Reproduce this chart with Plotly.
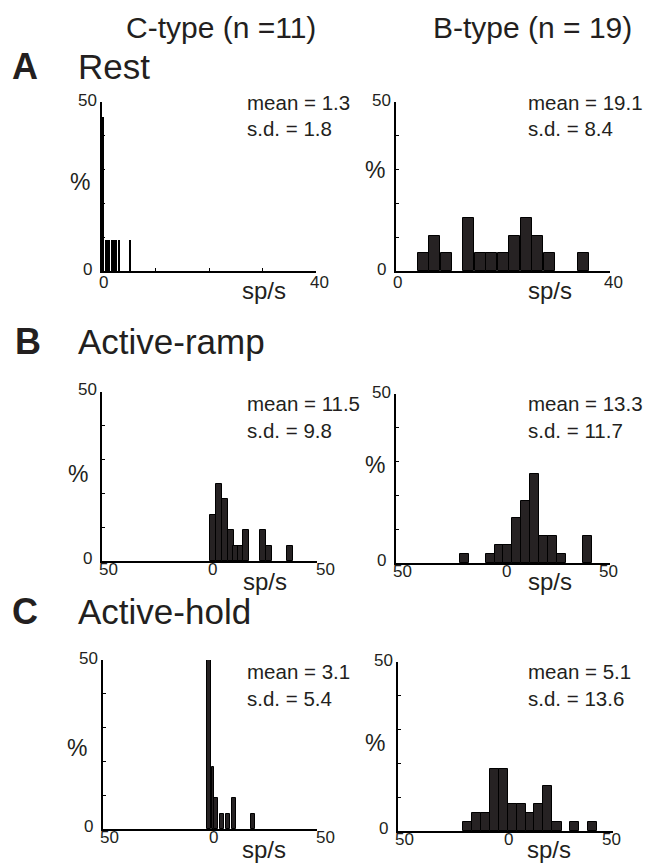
import plotly.graph_objects as go

W, H = 646, 863

# ---------------- data (percent of cells per firing-rate bin, sp/s) ----------------
rest_c_x = [0.23, 0.75, 1.2, 1.95, 2.55, 3.15, 5.25]
rest_c_pct = [45.5, 9.1, 9.1, 9.1, 9.1, 9.1, 9.1]
rest_c_w = [0.45] * 7

rest_b_x = [5.1, 7.2, 9.4, 13.6, 15.8, 17.9, 20.1, 22.2, 24.4, 26.5, 28.7, 35.1]
rest_b_pct = [5.3, 10.5, 5.3, 15.8, 5.3, 5.3, 5.3, 10.5, 15.8, 10.5, 5.3, 5.3]
rest_b_w = [2.12] * 12

ramp_c_x = [1.6, 4.4, 7.2, 9.9, 12.2, 14.5, 17.1, 24.9, 27.6, 37.3]
ramp_c_pct = [13.6, 22.7, 18.2, 9.1, 4.5, 4.5, 9.1, 9.1, 4.5, 4.5]
ramp_c_w = [2.7] * 10

ramp_b_x = [-17.9, -5.8, -1.8, 2.3, 6.4, 10.5, 14.8, 19.1, 23.2, 27.2, 39.3]
ramp_b_pct = [2.6, 2.6, 5.3, 5.3, 13.2, 18.4, 26.3, 7.9, 7.9, 2.6, 7.9]
ramp_b_w = [4.15] * 11

hold_c_x = [-0.35, 1.4, 2.8, 5.7, 8.6, 11.4, 20.2]
hold_c_pct = [50.0, 18.2, 9.1, 4.5, 4.5, 9.1, 4.5]
hold_c_w = [2.0, 1.3, 1.5, 1.9, 1.9, 1.9, 1.9]

hold_b_x = [-17.85, -13.5, -9.3, -5.3, -1.15, 3.2, 7.4, 11.4, 15.4, 19.6, 23.95, 32.25, 40.3]
hold_b_pct = [2.6, 5.3, 5.3, 18.4, 18.4, 7.9, 7.9, 5.3, 7.9, 13.2, 2.6, 2.6, 2.6]
hold_b_w = [4.2] * 13

stats = [("mean = 1.3", "s.d. = 1.8"), ("mean = 19.1", "s.d. = 8.4"),
         ("mean = 11.5", "s.d. = 9.8"), ("mean = 13.3", "s.d. = 11.7"),
         ("mean = 3.1", "s.d. = 5.4"), ("mean = 5.1", "s.d. = 13.6")]

col_titles = ["C-type (n =11)", "B-type (n = 19)"]
row_letters = ["A", "B", "C"]
row_titles = ["Rest", "Active-ramp", "Active-hold"]

# ---------------- layout geometry (pixels) ----------------
# (left, right, bottom, top) of each panel's axes
panels = [
    (102, 316, 271, 102),
    (396, 610, 271, 102),
    (102, 317, 561, 392),
    (396, 610, 563, 394),
    (103, 317, 829, 660),
    (398, 613, 831, 662),
]
xranges = [[0, 40], [0, 40], [-50, 50], [-50, 50], [-50, 50], [-50, 50]]

series = [
    (rest_c_x, rest_c_pct, rest_c_w),
    (rest_b_x, rest_b_pct, rest_b_w),
    (ramp_c_x, ramp_c_pct, ramp_c_w),
    (ramp_b_x, ramp_b_pct, ramp_b_w),
    (hold_c_x, hold_c_pct, hold_c_w),
    (hold_b_x, hold_b_pct, hold_b_w),
]

FONT = "Liberation Sans, Arial, Helvetica, sans-serif"
TXT = "#231f20"


def px(x, y):
    return x / W, 1 - y / H


fig = go.Figure()
annotations = []

for i, ((l, r, b, t), xr, (xs, ys, ws)) in enumerate(zip(panels, xranges, series)):
    k = "" if i == 0 else str(i + 1)
    dark = i == 0
    fig.add_trace(go.Bar(
        x=xs, y=ys, width=ws, xaxis="x" + k, yaxis="y" + k,
        marker=dict(color="#000000" if dark else "#262223",
                    line=dict(color="#000000", width=0 if dark else 1)),
        showlegend=False, hoverinfo="x+y"))
    xa = dict(domain=[l / W, r / W], range=xr, anchor="y" + k,
              showline=True, linecolor="#000", linewidth=2, showgrid=False,
              zeroline=False, showticklabels=False,
              ticks="inside" if i == 0 else "", ticklen=3, tickwidth=1,
              tickcolor="#000", tickvals=[10, 20, 30], fixedrange=True)
    ya = dict(domain=[1 - b / H, 1 - t / H], range=[0, 50], anchor="x" + k,
              showline=True, linecolor="#000", linewidth=2, showgrid=False,
              zeroline=False, showticklabels=False, ticks="inside", ticklen=3,
              tickwidth=1, tickcolor="#000", tickvals=[10, 20, 30, 40, 50],
              fixedrange=True)
    fig.update_layout(**{"xaxis" + k: xa, "yaxis" + k: ya})

    # axis value labels tied to the axes
    xref, yref = "x" + k, "y" + k
    def lab(text, x, y, dx, dy, size=17):
        annotations.append(dict(text=text, x=x, y=y, xref=xref, yref=yref,
                                xshift=dx, yshift=dy, showarrow=False,
                                xanchor="center", yanchor="middle",
                                font=dict(family=FONT, size=size, color=TXT)))
    lo, hi = xr
    lab("50", lo, 50, -15, 2)
    if i < 2:
        lab("0", lo, 0, -15, 2)
        lab("0", lo, 0, 1, -11)
        lab("40", hi, 0, 3, -11)
    else:
        lab("0", lo, 0, -15, 3)
        lab("50", lo, 0, 6, -8)
        lab("0", 0, 0, 3, -8)
        lab("50", hi, 0, 8 if i % 2 == 0 else -2, -8)

    # % label, sp/s label, stats
    pct_pos = [(80, 182), (375, 170), (78, 474), (375, 465), (77, 748), (375, 743)][i]
    sps_pos = [(264, 290), (550, 290), (265, 581), (550, 581), (264, 849), (549, 849)][i]
    st_x = [245, 526, 245, 526, 245, 526][i]
    st_y = [(102.6, 128.6), (102.6, 128.6), (403.6, 430.6), (403.6, 430.6),
            (671.6, 698.6), (671.6, 698.6)][i]
    for text, (x0, y0), size in (("%", pct_pos, 23), ("sp/s", sps_pos, 24)):
        xx, yy = px(x0, y0)
        annotations.append(dict(text=text, x=xx, y=yy, xref="paper", yref="paper",
                                showarrow=False, xanchor="center", yanchor="middle",
                                font=dict(family=FONT, size=size, color=TXT)))
    for text, y0 in zip(stats[i], st_y):
        xx, yy = px(st_x, y0)
        annotations.append(dict(text=text, x=xx, y=yy, xref="paper", yref="paper",
                                showarrow=False, xanchor="left", yanchor="middle",
                                font=dict(family=FONT, size=20.5, color=TXT)))

# column titles
for text, cx in zip(col_titles, [221, 532]):
    xx, yy = px(cx, 27.5)
    annotations.append(dict(text=text, x=xx, y=yy, xref="paper", yref="paper",
                            showarrow=False, xanchor="center", yanchor="middle",
                            font=dict(family=FONT, size=30, color=TXT)))
# row titles
for letter, title, lx, cy in zip(row_letters, row_titles, [10, 13, 10], [66.5, 341.5, 611]):
    xx, yy = px(lx, cy)
    annotations.append(dict(text="<b>" + letter + "</b>", x=xx, y=yy, xref="paper",
                            yref="paper", showarrow=False, xanchor="left",
                            yanchor="middle",
                            font=dict(family=FONT, size=36, color=TXT)))
    xx, yy = px(76, cy)
    annotations.append(dict(text=title, x=xx, y=yy, xref="paper", yref="paper",
                            showarrow=False, xanchor="left", yanchor="middle",
                            font=dict(family=FONT, size=35, color=TXT)))

fig.update_layout(width=W, height=H, autosize=False,
                  margin=dict(l=0, r=0, t=0, b=0),
                  paper_bgcolor="white", plot_bgcolor="white",
                  barmode="overlay", bargap=0, annotations=annotations)

fig.write_html("out.html", config={"displayModeBar": False})
